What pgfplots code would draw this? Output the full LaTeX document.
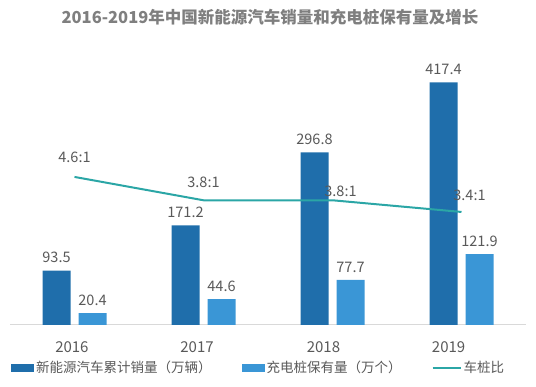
\documentclass[border=0pt]{standalone}
\usepackage{pgfplots}
\pgfplotsset{compat=1.18}
\usepackage{pgfplotstable}
\usepackage{fontspec}
\setmainfont{Noto Sans CJK SC}
\definecolor{darkbar}{HTML}{1F6EAB}
\definecolor{lightbar}{HTML}{3A96D6}
\definecolor{teal1}{HTML}{2BA6A6}
\definecolor{txt}{HTML}{595959}
\definecolor{ttl}{HTML}{7F7F7F}
\definecolor{axisgray}{HTML}{D9D9D9}
\pgfplotsset{/pgf/number format/assume math mode=true}

\pgfplotstableread{
x ev pile
0 93.5 20.4
1 171.2 44.6
2 296.8 77.7
3 417.4 121.9
}\bars
\pgfplotstableread{
x r lab dx dy
0 4.6 4.6:1 0 20
1 3.8 3.8:1 0 18
2 3.8 3.8:1 8 9
3 3.4 3.4:1 8 17
}\ratio

\begin{document}
\begin{tikzpicture}[x=1pt,y=1pt]
\useasboundingbox (0,0) rectangle (536,386);
\node[font=\bfseries\fontsize{16.5}{18}\selectfont, text=ttl] at (270,369) {2016-2019年中国新能源汽车销量和充电桩保有量及增长};
\begin{axis}[
  at={(10pt,61pt)}, anchor=south west, scale only axis,
  width=516pt, height=275pt,
  xmin=-0.5, xmax=3.5, ymin=0, ymax=473,
  axis x line*=bottom, axis y line=none,
  x axis line style={draw=axisgray, line width=1pt, -},
  xtick={-0.02,0.95,1.93,2.9}, xticklabels={2016,2017,2018,2019},
  major tick length=0pt,
  xticklabel style={font=\fontsize{15}{17}\selectfont, text=txt, yshift=-13pt},
  ybar=8pt, bar width=28pt,
  clip=false,
  nodes near coords,
  nodes near coords style={font=\fontsize{14.5}{16}\selectfont, text=txt, anchor=south, yshift=4pt,
    /pgf/number format/.cd, fixed, fixed zerofill, precision=1},
  legend style={at={(-0.004,-0.156)}, anchor=west, draw=none, fill=none,
    legend columns=3, font=\fontsize{13.5}{15}\selectfont, text=txt,
    /tikz/every even column/.append style={column sep=28pt}},
  legend cell align=left,
]
\addplot[fill=darkbar, draw=none,
  legend image code/.code={\fill[darkbar] (0pt,-4pt) rectangle (23pt,4pt);}]
  table[x=x, y=ev]{\bars};
\addlegendentry{新能源汽车累计销量（万辆）}
\addplot[fill=lightbar, draw=none,
  legend image code/.code={\fill[lightbar] (0pt,-4pt) rectangle (23pt,4pt);}]
  table[x=x, y=pile]{\bars};
\addlegendentry{充电桩保有量（万个）}
\addlegendimage{teal1, line width=2pt, legend image code/.code={\draw[teal1, line width=2pt] (0pt,0pt) -- (28pt,0pt);}}
\addlegendentry{车桩比}
\end{axis}
\begin{axis}[
  at={(10pt,61pt)}, anchor=south west, scale only axis,
  width=516pt, height=275pt,
  xmin=-0.5, xmax=3.5, ymin=-0.474, ymax=8.95,
  axis lines=none, clip=false,
]
\addplot[teal1, line width=2pt, mark=none,
  point meta=explicit symbolic, nodes near coords,
  visualization depends on={\thisrow{dx}\as\dx},
  visualization depends on={\thisrow{dy}\as\dy},
  every node near coord/.append style={anchor=center, xshift=\dx pt, yshift=\dy pt,
    font=\fontsize{14.5}{16}\selectfont, text=txt}]
  table[x=x, y=r, meta=lab]{\ratio};
\end{axis}
\end{tikzpicture}
\end{document}
